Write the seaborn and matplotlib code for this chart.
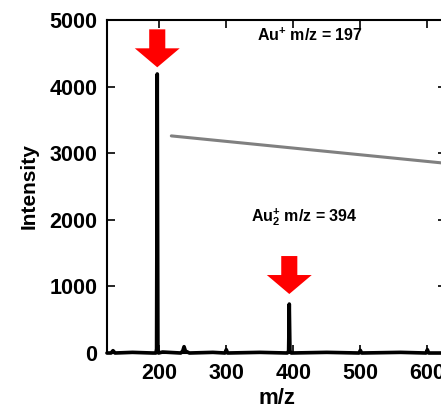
import matplotlib
matplotlib.use("Agg")
import matplotlib.pyplot as plt
import seaborn as sns
import pandas as pd
from matplotlib.patches import FancyArrow

# mass spectrum (stick-like)
mz = [122, 128, 131, 134, 160, 190, 195, 196, 197, 198, 199, 205, 232, 235, 237, 239,
      245, 280, 298, 300, 302, 350, 391, 393, 394, 395, 397, 450, 498, 500, 502,
      560, 598, 600, 602, 628]
intensity = [0, 0, 35, 0, 10, 0, 0, 60, 4190, 60, 0, 15, 0, 30, 95, 30,
             0, 10, 0, 50, 0, 10, 0, 30, 735, 30, 0, 10, 0, 40, 0,
             10, 0, 50, 0, 0]

# grey line across the plot
line_mz = [218, 628]
line_int = [3260, 2848]

peak_labels = ["Au$^{\\mathbf{+}}$ m/z = 197", "Au$_{\\mathbf{2}}^{\\mathbf{+}}$ m/z = 394"]
label_pos = [(424, 4775), (417, 2043)]
arrow_peaks = [197, 394]
arrow_tops = [4860, 1456]

df = pd.DataFrame({"m/z": mz, "Intensity": intensity})

sns.set_theme(style="ticks")
plt.rcParams["font.family"] = ["Liberation Sans", "DejaVu Sans"]
plt.rcParams["font.weight"] = "bold"
plt.rcParams["text.color"] = "black"
plt.rcParams["axes.labelcolor"] = "black"
plt.rcParams["axes.edgecolor"] = "black"
plt.rcParams["xtick.color"] = "black"
plt.rcParams["ytick.color"] = "black"
plt.rcParams["mathtext.fontset"] = "custom"
plt.rcParams["mathtext.rm"] = "Liberation Sans:bold"
plt.rcParams["mathtext.bf"] = "Liberation Sans:bold"
plt.rcParams["mathtext.it"] = "Liberation Sans:bold"

fig = plt.figure(figsize=(4.41, 4.11), dpi=100)
ax = fig.add_axes([0.2426, 0.1411, 0.769, 0.8102])

sns.lineplot(data=df, x="m/z", y="Intensity", color="black", linewidth=2.6,
             estimator=None, ax=ax, clip_on=False)
sns.lineplot(x=line_mz, y=line_int, color="#808080", linewidth=2.2,
             estimator=None, ax=ax)

for x0, top in zip(arrow_peaks, arrow_tops):
    ax.add_patch(FancyArrow(x0, top, 0, -570, width=24, head_width=67,
                            head_length=285, length_includes_head=True,
                            color="#ff0000", linewidth=0))

for txt, (tx, ty) in zip(peak_labels, label_pos):
    ax.text(tx, ty, txt, ha="center", va="center", fontsize=11.5, fontweight="bold")

ax.set_xlim(122, 628)
ax.set_ylim(0, 5000)
ax.set_xticks([200, 300, 400, 500, 600])
ax.set_yticks([0, 1000, 2000, 3000, 4000, 5000])
ax.set_xlabel("m/z", fontsize=16, fontweight="bold", labelpad=3)
ax.set_ylabel("Intensity", fontsize=15, fontweight="bold", labelpad=8)
ax.tick_params(direction="in", length=6, width=1.2, top=True, right=True,
               labelsize=15.5, pad=7)
for lab in ax.get_xticklabels() + ax.get_yticklabels():
    lab.set_fontweight("bold")
for s in ax.spines.values():
    s.set_linewidth(1.5)

fig.savefig("out.png", dpi=100)
